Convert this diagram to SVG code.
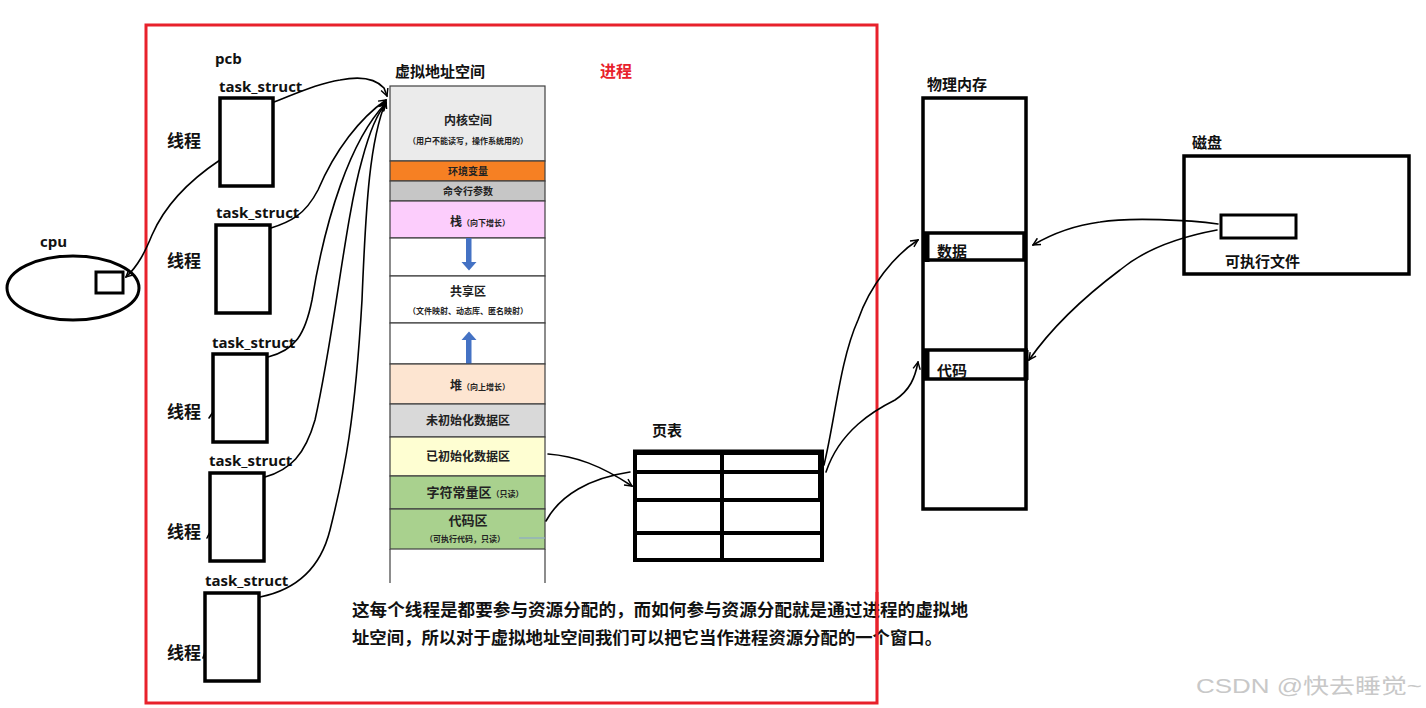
<svg xmlns="http://www.w3.org/2000/svg" width="1426" height="708" viewBox="0 0 1426 708">
<defs>
<style>
.lbl{font-family:"Noto Sans CJK SC","Noto Sans",sans-serif;font-weight:bold;fill:#111}
.en{font-family:"Open Sans","Noto Sans",sans-serif;font-weight:bold;fill:#111;font-size:15px}
.box{fill:#fff;stroke:#000;stroke-width:3.5}
.seg{stroke:#404040;stroke-width:1.2}
.st{font-family:"Noto Sans CJK SC",serif;font-weight:600;fill:#222;text-anchor:middle}
.wire{fill:none;stroke:#000;stroke-width:1.6;stroke-linecap:round}
.tbl{fill:none;stroke:#000;stroke-width:4}
.blue{fill:#4472c4}
</style>
<marker id="ah" viewBox="0 0 10 10" refX="9" refY="5" markerWidth="9" markerHeight="9" orient="auto" markerUnits="userSpaceOnUse">
<path d="M1,1 L9,5 L1,9" fill="none" stroke="#000" stroke-width="1.6"/>
</marker>
</defs>
<rect width="1426" height="708" fill="#fff"/>

<!-- process frame -->
<g id="process-frame">
<rect x="146" y="25" width="731" height="678" fill="none" stroke="#e8212b" stroke-width="3"/>
<text x="600" y="77" class="lbl" font-size="16" style="fill:#e8212b">进程</text>
</g>

<!-- cpu -->
<g id="cpu">
<text x="40" y="247" class="en">cpu</text>
<ellipse cx="73" cy="288" rx="66" ry="32" fill="none" stroke="#000" stroke-width="3"/>
<rect x="96" y="272" width="27" height="21" fill="#fff" stroke="#000" stroke-width="3"/>
</g>

<text x="215" y="64" class="en">pcb</text>

<g id="thread1">
<text x="219" y="92" class="en">task_struct</text>
<rect x="220" y="98" width="53" height="88" class="box"/>
<text x="167" y="147" class="lbl" font-size="17">线程</text>
</g>
<g id="thread2">
<text x="216" y="218" class="en">task_struct</text>
<rect x="216" y="225" width="54" height="88" class="box"/>
<text x="167" y="267" class="lbl" font-size="17">线程</text>
</g>
<g id="thread3">
<text x="212" y="348" class="en">task_struct</text>
<rect x="213" y="354" width="54" height="88" class="box"/>
<text x="167" y="418" class="lbl" font-size="17">线程</text>
</g>
<g id="thread4">
<text x="209" y="466" class="en">task_struct</text>
<rect x="210" y="473" width="54" height="88" class="box"/>
<text x="167" y="538" class="lbl" font-size="17">线程</text>
</g>
<g id="thread5">
<text x="205" y="586" class="en">task_struct</text>
<rect x="205" y="593" width="54" height="88" class="box"/>
<text x="167" y="659" class="lbl" font-size="17">线程</text>
</g>

<!-- virtual address space -->
<g id="vas">
<text x="395" y="77" class="lbl" font-size="15">虚拟地址空间</text>
<rect x="390" y="86" width="155" height="75" fill="#ebebeb" class="seg"/>
<text x="468" y="125" class="st" font-size="12">内核空间</text>
<text x="468" y="144" class="st" font-size="8">（用户不能读写，操作系统用的）</text>
<rect x="390" y="161" width="155" height="20" fill="#f68023" class="seg"/>
<text x="468" y="175" class="st" font-size="10">环境变量</text>
<rect x="390" y="181" width="155" height="20" fill="#c6c6c6" class="seg"/>
<text x="468" y="195" class="st" font-size="10">命令行参数</text>
<rect x="390" y="201" width="155" height="37" fill="#fccdfc" class="seg"/>
<text x="480" y="226" class="st" font-size="12">栈<tspan font-size="8">（向下增长）</tspan></text>
<rect x="390" y="238" width="155" height="38" fill="#fff" class="seg"/>
<polygon class="blue" points="466,238 471.5,238 471.5,262 476.5,262 469,270.5 461.5,262 466,262"/>
<rect x="390" y="276" width="155" height="47" fill="#fff" class="seg"/>
<text x="468" y="296" class="st" font-size="12">共享区</text>
<text x="468" y="314" class="st" font-size="8">（文件映射、动态库、匿名映射）</text>
<rect x="390" y="323" width="155" height="41" fill="#fff" class="seg"/>
<polygon class="blue" points="466,364 471.5,364 471.5,340 476.5,340 469,331.5 461.5,340 466,340"/>
<rect x="390" y="364" width="155" height="40" fill="#fde5d1" class="seg"/>
<text x="480" y="390" class="st" font-size="12">堆<tspan font-size="8">（向上增长）</tspan></text>
<rect x="390" y="404" width="155" height="33" fill="#d9d9d9" class="seg"/>
<text x="468" y="425" class="st" font-size="12">未初始化数据区</text>
<rect x="390" y="437" width="155" height="39" fill="#fefed2" class="seg"/>
<text x="468" y="461" class="st" font-size="12">已初始化数据区</text>
<rect x="390" y="476" width="155" height="33" fill="#a9d18e" class="seg"/>
<text x="475" y="497" class="st" font-size="13">字符常量区<tspan font-size="8">（只读）</tspan></text>
<rect x="390" y="509" width="155" height="40" fill="#a9d18e" class="seg"/>
<text x="468" y="525" class="st" font-size="13">代码区</text>
<text x="465" y="542" class="st" font-size="8">（可执行代码，只读）</text>
<line x1="519" y1="538" x2="545" y2="538" stroke="#8ea9c8" stroke-width="1.2"/>
<line x1="390" y1="549" x2="390" y2="583" class="seg"/>
<line x1="545" y1="549" x2="545" y2="583" class="seg"/>
</g>

<!-- page table -->
<g id="page-table">
<text x="652" y="436" class="lbl" font-size="15">页表</text>
<rect x="635" y="453" width="187" height="107" class="tbl"/>
<line x1="633" y1="452" x2="824" y2="452" stroke="#000" stroke-width="5"/>
<line x1="635" y1="472" x2="822" y2="472" class="tbl"/>
<line x1="635" y1="500" x2="822" y2="500" class="tbl"/>
<line x1="635" y1="533" x2="822" y2="533" class="tbl"/>
<line x1="722" y1="453" x2="722" y2="560" class="tbl"/>
<line x1="821" y1="452" x2="821" y2="500" stroke="#000" stroke-width="6"/>
</g>

<!-- physical memory -->
<g id="phys-mem">
<text x="927" y="90" class="lbl" font-size="15">物理内存</text>
<rect x="923" y="98" width="103" height="411" class="box"/>
<rect x="925" y="233" width="99" height="27" fill="none" stroke="#000" stroke-width="3.5"/>
<line x1="927" y1="232" x2="927" y2="262" stroke="#000" stroke-width="5"/>
<text x="937" y="257" class="lbl" font-size="15">数据</text>
<rect x="925" y="350" width="101" height="29" fill="none" stroke="#000" stroke-width="3.5"/>
<line x1="927" y1="350" x2="927" y2="380" stroke="#000" stroke-width="5"/>
<line x1="1026" y1="350" x2="1026" y2="380" stroke="#000" stroke-width="5"/>
<text x="937" y="376" class="lbl" font-size="15">代码</text>
</g>

<!-- disk -->
<g id="disk">
<text x="1192" y="148" class="lbl" font-size="15">磁盘</text>
<rect x="1184" y="156" width="225" height="118" class="box"/>
<rect x="1221" y="215" width="75" height="23" fill="#fff" stroke="#000" stroke-width="3"/>
<text x="1225" y="267" class="lbl" font-size="15">可执行文件</text>
</g>

<!-- connectors -->
<g id="connectors">
<path class="wire" d="M274,102 C300,92 320,83 340,80 C360,76 375,78 384,88 L387,96" marker-end="url(#ah)"/>
<path class="wire" d="M271,228 C290,222 305,215 318,190 C335,150 360,118 386,100" marker-end="url(#ah)"/>
<path class="wire" d="M268,357 C295,350 305,335 312,300 C325,220 350,140 386,103" marker-end="url(#ah)"/>
<path class="wire" d="M265,477 C290,470 305,455 315,420 C335,330 345,220 362,160 C370,130 378,112 386,104" marker-end="url(#ah)"/>
<path class="wire" d="M260,597 C295,590 320,570 330,530 C345,470 355,420 362,300 C366,200 370,140 386,101" marker-end="url(#ah)"/>
<path class="wire" d="M209,418 L213,412"/>
<path class="wire" d="M207,538 L210,532"/>
<path class="wire" d="M203,658 L205,652"/>
<path class="wire" d="M220,160 C190,180 165,205 152,235 C145,252 138,266 126,277" marker-end="url(#ah)"/>
<path class="wire" d="M548,454 C575,456 600,465 632,486" marker-end="url(#ah)"/>
<path class="wire" d="M546,521 C560,495 590,478 630,472"/>
<path class="wire" d="M824,465 C835,420 840,360 858,320 C870,285 895,255 918,240" marker-end="url(#ah)"/>
<path class="wire" d="M826,472 C840,430 875,410 895,400 C910,390 915,378 918,362" marker-end="url(#ah)"/>
<path class="wire" d="M1218,224 C1190,220 1130,217 1100,222 C1070,226 1050,235 1033,245" marker-end="url(#ah)"/>
<path class="wire" d="M1217,230 C1190,235 1150,245 1120,270 C1080,300 1050,330 1029,360" marker-end="url(#ah)"/>
</g>

<!-- note -->
<g id="note">
<text x="352" y="616" class="lbl" font-size="17" textLength="616" lengthAdjust="spacingAndGlyphs">这每个线程是都要参与资源分配的，而如何参与资源分配就是通过进程的虚拟地</text>
<text x="352" y="644" class="lbl" font-size="17" textLength="590" lengthAdjust="spacingAndGlyphs">址空间，所以对于虚拟地址空间我们可以把它当作进程资源分配的一个窗口。</text>
</g>
<line x1="877" y1="592" x2="877" y2="660" stroke="#e8212b" stroke-width="3"/>

<text x="1196" y="693" font-family="Liberation Sans, Noto Sans CJK SC, sans-serif" font-size="21" fill="#c8c8c8" textLength="226" lengthAdjust="spacingAndGlyphs">CSDN @快去睡觉~</text>
</svg>
